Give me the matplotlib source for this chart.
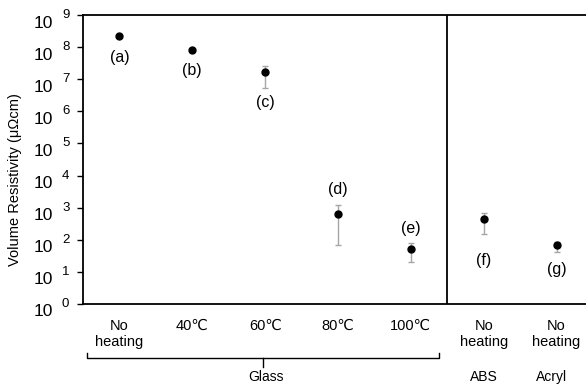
import matplotlib
matplotlib.use("Agg")
import matplotlib.pyplot as plt
import matplotlib.transforms as mtransforms
import numpy as np

plt.rcParams['font.family'] = ['Liberation Sans', 'DejaVu Sans']

# ---- data ----
categories = ["No\nheating", "40\u2103", "60\u2103", "80\u2103", "100\u2103", "No\nheating", "No\nheating"]
point_labels = ["(a)", "(b)", "(c)", "(d)", "(e)", "(f)", "(g)"]
resistivity = [2.2e8, 8.0e7, 1.65e7, 650, 53, 435, 69]
err_upper = [2.2e8, 8.0e7, 2.65e7, 1210, 78, 670, 87]
err_lower = [2.2e8, 8.0e7, 5.2e6, 69, 21, 152, 43]
groups = ["Glass", "ABS", "Acryl"]
y_exponents = list(range(0, 10))

# label offsets in pixels (layout)
label_dy = [-21, -20, -30, 24, 20, -41, -25]

W, H = 586, 385
fig = plt.figure(figsize=(W / 100, H / 100), dpi=100)
ax_left, ax_right, ax_top, ax_bottom = 83, 593, 15, 304
ax = fig.add_axes([ax_left / W, (H - ax_bottom) / H,
                   (ax_right - ax_left) / W, (ax_bottom - ax_top) / H])

x = np.arange(len(resistivity)) + 0.5
vals = np.array(resistivity)
yerr = np.vstack([vals - np.array(err_lower), np.array(err_upper) - vals])
ax.errorbar(x, vals, yerr=yerr, fmt='none', ecolor='#a6a6a6', elinewidth=1.0,
            capsize=2, capthick=1.0, zorder=2)
ax.plot(x, vals, 'o', color='black', markersize=5, zorder=3)

ax.set_yscale('log')
ax.set_ylim(1, 1e9)
ax.set_xlim(0, 7)

for s in ['left', 'top', 'bottom']:
    ax.spines[s].set_linewidth(1.3)
ax.spines['right'].set_visible(False)
ax.axvline(5, color='black', linewidth=1.3)

# y ticks
ax.set_yticks([10.0 ** k for k in y_exponents])
ax.yaxis.set_minor_locator(matplotlib.ticker.NullLocator())
ax.set_yticklabels([])
ax.tick_params(axis='y', direction='out', length=4, width=1.0)
for k in y_exponents:
    ax.annotate("10", xy=(0, 10.0 ** k), xycoords=('axes fraction', 'data'),
                xytext=(-30, -8), textcoords='offset pixels', ha='right', va='center',
                fontsize=12.5)
    ax.annotate(str(k), xy=(0, 10.0 ** k), xycoords=('axes fraction', 'data'),
                xytext=(-21, 0), textcoords='offset pixels', ha='left', va='center',
                fontsize=9.5)

# x ticks
ax.set_xticks(x)
ax.set_xticklabels(categories, fontsize=10.5, linespacing=1.15)
ax.tick_params(axis='x', length=0, pad=11)

# point labels
for xi, v, lab, dy in zip(x, vals, point_labels, label_dy):
    ax.annotate(lab, xy=(xi, v), xytext=(0, dy), textcoords='offset pixels',
                ha='center', va='center', fontsize=11.5)

# bracket for Glass
trans = mtransforms.blended_transform_factory(ax.transData, ax.transAxes)
ypx = lambda p: (ax_bottom - p) / (ax_bottom - ax_top)
xl, xr, xc = 0.055, 4.89, 2.47
ax.plot([xl, xl, xr, xr], [ypx(353), ypx(358), ypx(358), ypx(353)],
        color='black', linewidth=1.0, transform=trans, clip_on=False)
ax.plot([xc, xc], [ypx(358), ypx(367)], color='black', linewidth=1.0,
        transform=trans, clip_on=False)

group_x = [2.51, 5.5, 6.43]
for gx, g in zip(group_x, groups):
    ax.text(gx, ypx(377), g, transform=trans, ha='center', va='center', fontsize=10)

fig.text(15 / W, 1 - 180 / H, "Volume Resistivity (\u03bc\u03a9cm)", rotation=90,
         ha='center', va='center', fontsize=10.5)

fig.savefig("out.png", dpi=100)
